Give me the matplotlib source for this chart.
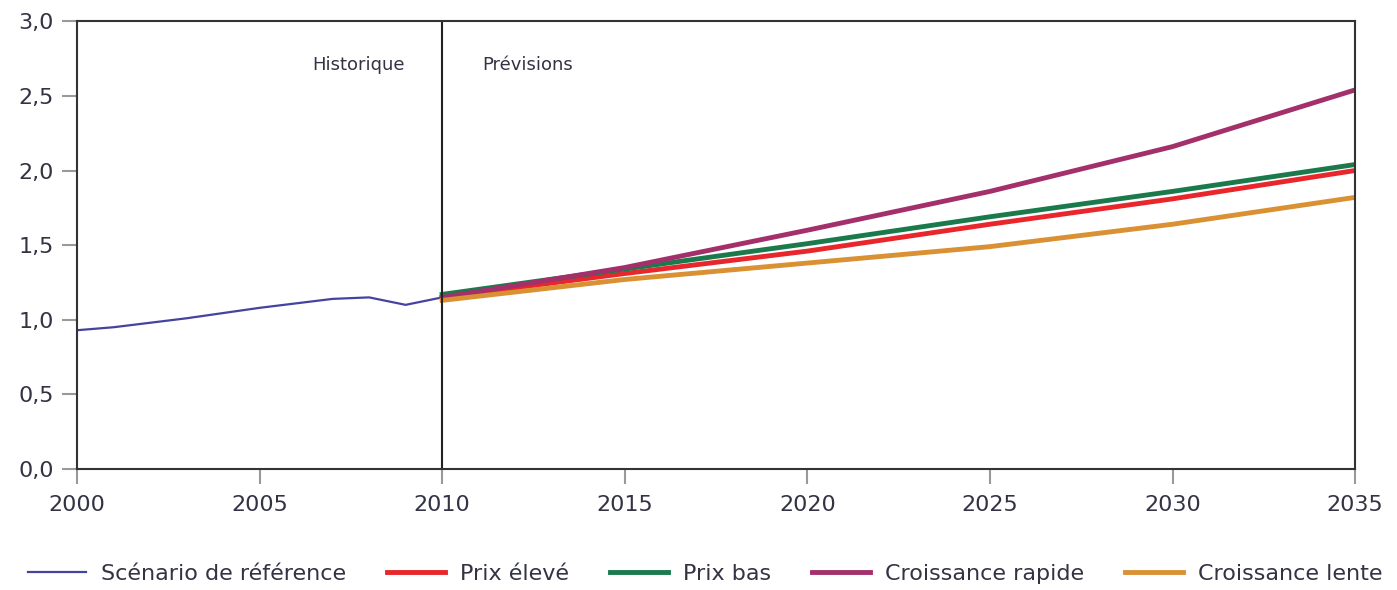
import matplotlib
matplotlib.use("Agg")
import matplotlib.pyplot as plt
from matplotlib.ticker import FuncFormatter

# historique
annees_hist = [2000, 2001, 2003, 2005, 2007, 2008, 2009, 2010]
reference = [0.93, 0.95, 1.01, 1.08, 1.14, 1.15, 1.10, 1.15]

# prévisions
annees_prev = [2010, 2015, 2020, 2025, 2030, 2035]
prix_eleve = [1.15, 1.31, 1.46, 1.64, 1.81, 2.00]
prix_bas = [1.17, 1.34, 1.51, 1.69, 1.86, 2.04]
croissance_rapide = [1.15, 1.35, 1.60, 1.86, 2.16, 2.54]
croissance_lente = [1.13, 1.27, 1.38, 1.49, 1.64, 1.82]

couleurs = {
    "ref": "#4444a0",
    "eleve": "#e8262b",
    "bas": "#1b7a4c",
    "rapide": "#a3306a",
    "lente": "#d99133",
}

plt.rcParams["font.family"] = ["DejaVu Sans"]

fig = plt.figure(figsize=(13.97, 5.90), dpi=100)
ax = fig.add_axes([0.0551, 0.205, 0.9149, 0.759])

ax.plot(annees_hist, reference, color=couleurs["ref"], lw=1.6, label="Scénario de référence")
ax.plot(annees_prev, prix_eleve, color=couleurs["eleve"], lw=3.5, label="Prix élevé")
ax.plot(annees_prev, prix_bas, color=couleurs["bas"], lw=3.5, label="Prix bas")
ax.plot(annees_prev, croissance_rapide, color=couleurs["rapide"], lw=3.5, label="Croissance rapide")
ax.plot(annees_prev, croissance_lente, color=couleurs["lente"], lw=3.5, label="Croissance lente")

ax.axvline(2010, color="#222222", lw=1.5)
ax.text(2007.7, 2.71, "Historique", ha="center", va="center", fontsize=13,
        color="#333344")
ax.text(2011.1, 2.71, "Prévisions", ha="left", va="center", fontsize=13,
        color="#333344")

ax.set_xlim(2000, 2035)
ax.set_ylim(0, 3)
ax.set_xticks(range(2000, 2036, 5))
ax.set_yticks([0, 0.5, 1.0, 1.5, 2.0, 2.5, 3.0])
ax.yaxis.set_major_formatter(FuncFormatter(lambda v, p: f"{v:.1f}".replace(".", ",")))

for s in ax.spines.values():
    s.set_color("#333333")
    s.set_linewidth(1.5)
ax.tick_params(axis="both", direction="out", length=10.5, width=1.5, color="#999999",
               labelsize=16, labelcolor="#333344")
ax.tick_params(axis="x", pad=8)
ax.tick_params(axis="y", pad=6)

fig.legend(loc="center", bbox_to_anchor=(0.505, 0.027), ncol=5, frameon=False,
           fontsize=16, handlelength=2.6, handletextpad=0.68, columnspacing=1.85,
           labelcolor="#333344")

fig.savefig("out.png", dpi=100)
